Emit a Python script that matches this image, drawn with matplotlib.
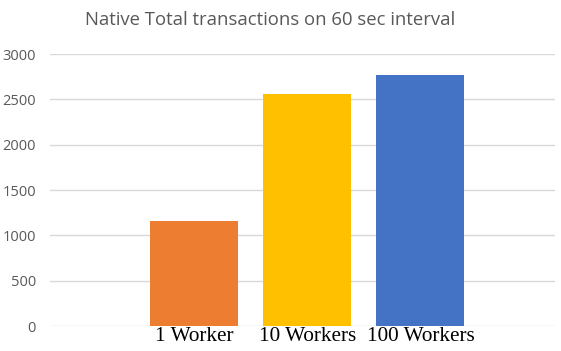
import matplotlib.pyplot as plt
import numpy as np

# Datos
categorias = ["1 Worker", "10 Workers", "100 Workers"]
transacciones = [1160, 2555, 2765]
colores = ["#ed7d31", "#ffc000", "#4472c4"]
ticks_y = [0, 500, 1000, 1500, 2000, 2500, 3000]

fig = plt.figure(figsize=(5.61, 3.51), dpi=100)
ax = fig.add_axes([50 / 561, 1 - 326 / 351, 505 / 561, 272 / 351])

x = np.arange(len(categorias))
ax.bar(x, transacciones, width=0.78, color=colores, zorder=3)

ax.set_ylim(0, 3000)
ax.set_xlim(-1.274, 3.19)
ax.set_yticks(ticks_y)
ax.set_xticks(x)
ax.set_xticklabels(categorias, fontfamily="Liberation Serif", fontsize=15.3, color="black")
ax.tick_params(axis="y", labelsize=10.5, colors="#595959", length=0, pad=10)
ax.tick_params(axis="x", length=0, pad=1)
for lab in ax.get_yticklabels():
    lab.set_fontfamily("Open Sans")

ax.grid(axis="y", color="#d9d9d9", linewidth=1, zorder=0)
for s in ax.spines.values():
    s.set_visible(False)

fig.text(0.482, 1 - 20 / 351, "Native Total transactions on 60 sec interval",
         ha="center", va="center", fontsize=13.3, color="#595959", fontfamily="Open Sans")

plt.savefig("out.png", dpi=100)
